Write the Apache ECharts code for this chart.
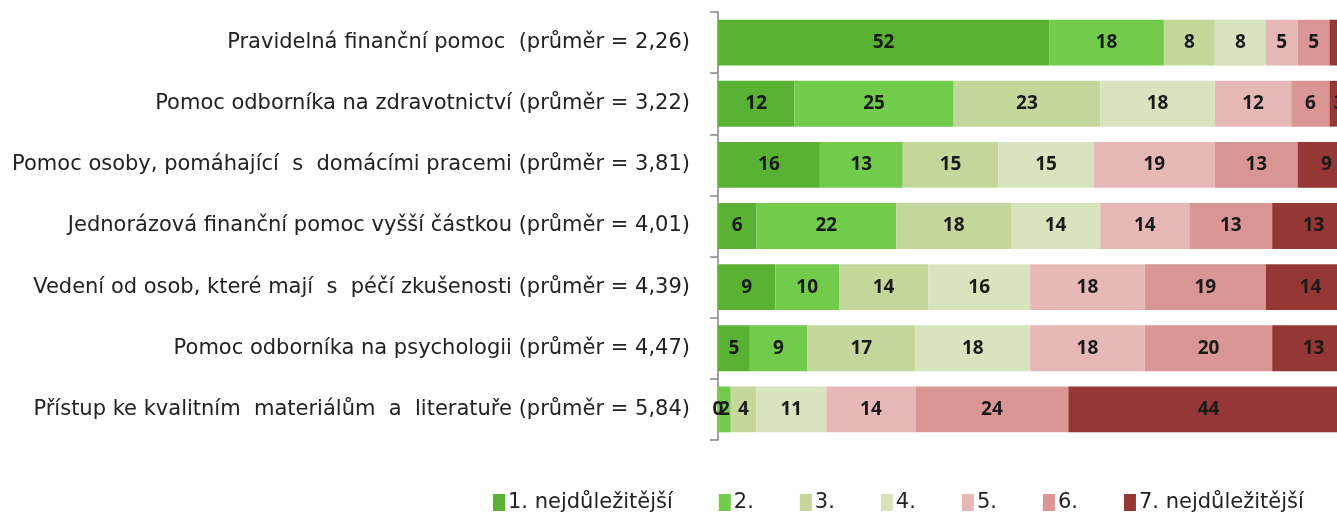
<!DOCTYPE html>
<html>
<head>
<meta charset="utf-8">
<script src="https://cdn.jsdelivr.net/npm/echarts@6/dist/echarts.min.js"></script>
<style>
  html, body { margin: 0; padding: 0; background: #fff; }
  #chart { width: 1337px; height: 517px; }
</style>
</head>
<body>
<div id="chart"></div>
<script>
var categories = [
  'Pravidelná finanční pomoc  (průměr = 2,26)',
  'Pomoc odborníka na zdravotnictví (průměr = 3,22)',
  'Pomoc osoby, pomáhající  s  domácími pracemi (průměr = 3,81)',
  'Jednorázová finanční pomoc vyšší částkou (průměr = 4,01)',
  'Vedení od osob, které mají  s  péčí zkušenosti (průměr = 4,39)',
  'Pomoc odborníka na psychologii (průměr = 4,47)',
  'Přístup ke kvalitním  materiálům  a  literatuře (průměr = 5,84)'
]
var seriesNames = ['1. nejdůležitější', '2.', '3.', '4.', '5.', '6.', '7. nejdůležitější']
var rank1 = [52, 12, 16, 6, 9, 5, 0]
var rank2 = [18, 25, 13, 22, 10, 9, 2]
var rank3 = [8, 23, 15, 18, 14, 17, 4]
var rank4 = [8, 18, 15, 14, 16, 18, 11]
var rank5 = [5, 12, 19, 14, 18, 18, 14]
var rank6 = [5, 6, 13, 13, 19, 20, 24]
var rank7 = [4, 3, 9, 13, 14, 13, 44]
var colors = ['#5ab234', '#72cb4b', '#c4d79d', '#d8e4bd', '#e6b9b8', '#d99694', '#953735']

var chart = echarts.init(document.getElementById('chart'))
var textFont = '"DejaVu Sans", sans-serif'
var numFont = '"Open Sans", sans-serif'

var allData = [rank1, rank2, rank3, rank4, rank5, rank6, rank7]
var series = allData.map(function (d, i) {
  return {
    name: seriesNames[i],
    type: 'bar',
    stack: 'total',
    barCategoryGap: '25%',
    data: d,
    itemStyle: { color: colors[i] },
    label: {
      show: true,
      position: 'inside',
      color: '#1a1a1a',
      fontWeight: 'bold',
      fontSize: 19,
      fontFamily: numFont
    }
  }
})

chart.setOption({
  animation: false,
  color: colors,
  grid: {
    left: 718,
    width: 637,
    top: 12,
    bottom: 77,
    outerBoundsMode: 'none'
  },
  legend: {
    left: 488,
    bottom: -1,
    itemWidth: 12,
    itemHeight: 17,
    itemGap: 46,
    icon: 'rect',
    textStyle: {
      fontSize: 21,
      color: '#222',
      fontFamily: textFont,
      padding: [0, 0, 0, -2]
    },
    data: seriesNames
  },
  xAxis: {
    type: 'value',
    min: 0,
    max: 100,
    show: false
  },
  yAxis: {
    type: 'category',
    inverse: true,
    data: categories,
    axisLine: { show: true, lineStyle: { color: '#868686', width: 1.5 } },
    axisTick: { show: true, length: 8, lineStyle: { color: '#868686', width: 1.5 } },
    axisLabel: {
      margin: 28,
      fontSize: 21,
      color: '#222',
      fontFamily: textFont
    }
  },
  series: series
})
</script>
</body>
</html>
